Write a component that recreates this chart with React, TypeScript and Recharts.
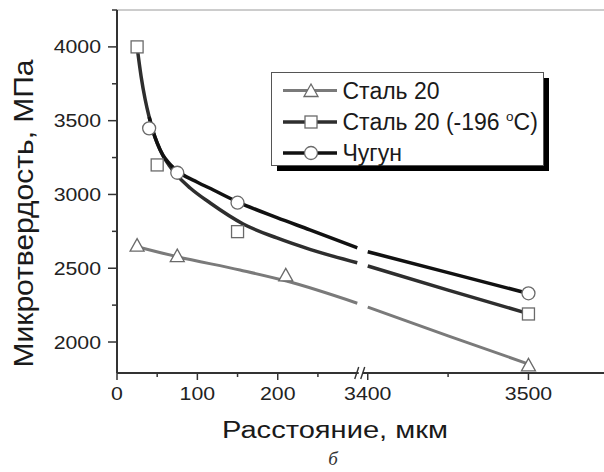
import React from 'react';
import { ComposedChart, Line, XAxis, YAxis, Legend, ReferenceLine, Label } from 'recharts';

const FONT = '"Liberation Sans", Arial, Helvetica, sans-serif';

// Broken x axis: 0–300 мкм, then 3400–3550 мкм drawn at double scale
const BREAK_LOW = 300;
const BREAK_HIGH = 3400;
const BREAK_GAP = 12;
const HIGH_STRETCH = 2;
const toAxis = (d: number) =>
  d <= BREAK_LOW ? d : BREAK_LOW + BREAK_GAP + (d - BREAK_HIGH) * HIGH_STRETCH;

const xMajorTicks = [0, 100, 200, 3400, 3500];
const xMinorTicks = [50, 150, 250, 3450];
const yMajorTicks = [2000, 2500, 3000, 3500, 4000];
const yMinorTicks = [2250, 2750, 3250, 3750, 4250];

const seriesNames = ['Сталь 20', 'Сталь 20 (-196 °C)', 'Чугун'];

// measured points
const steel20X = [25, 75, 210, 3500];
const steel20Y = [2657, 2585, 2455, 1845];
const steelColdX = [25, 50, 150, 3500];
const steelColdY = [4000, 3200, 2748, 2190];
const castIronX = [40, 75, 150, 3500];
const castIronY = [3448, 3147, 2944, 2330];

// fitted curves
const steel20FitX = [25, 75, 153, 211, 299, 3400, 3450, 3500];
const steel20FitY = [2646, 2578, 2488, 2413, 2263, 2237, 2042, 1851];
const steelColdFitX = [25, 30, 35, 40, 45, 50, 57, 65, 75, 91, 116, 157, 199, 240, 299, 3400, 3450, 3500];
const steelColdFitY = [4000, 3800, 3645, 3525, 3425, 3348, 3264, 3196, 3127, 3044, 2942, 2800, 2705, 2628, 2537, 2515, 2352, 2192];
const castIronFitX = [40, 45, 50, 57, 65, 80, 100, 120, 150, 199, 240, 299, 3400, 3450, 3500];
const castIronFitY = [3525, 3425, 3350, 3268, 3210, 3140, 3083, 3030, 2950, 2843, 2760, 2638, 2612, 2470, 2329];

const colors = ['#7a7a7a', '#2e2e2e', '#111111'];
const widths = [3, 3.5, 3.5];
const markers = ['triangle', 'square', 'circle'];
const MARKER_STROKE = '#6a6a6a';

const toPoints = (xs: number[], ys: number[]) => xs.map((d, i) => ({ u: toAxis(d), v: ys[i] }));
const toCurve = (xs: number[], ys: number[]) => {
  const pts: { u: number; v: number | null }[] = [];
  xs.forEach((d, i) => {
    if (d >= BREAK_HIGH && (i === 0 || xs[i - 1] < BREAK_HIGH)) {
      pts.push({ u: BREAK_LOW + BREAK_GAP / 2, v: null });
    }
    pts.push({ u: toAxis(d), v: ys[i] });
  });
  return pts;
};

const curves = [
  toCurve(steel20FitX, steel20FitY),
  toCurve(steelColdFitX, steelColdFitY),
  toCurve(castIronFitX, castIronFitY),
];
const points = [
  toPoints(steel20X, steel20Y),
  toPoints(steelColdX, steelColdY),
  toPoints(castIronX, castIronY),
];

const Marker = ({ kind, cx, cy }: { kind: string; cx: number; cy: number }) => {
  const common = { fill: '#fff', stroke: MARKER_STROKE, strokeWidth: 1.3 };
  if (kind === 'triangle') {
    return (
      <polygon
        {...common}
        points={`${cx},${cy - 6.5} ${cx + 7},${cy + 6} ${cx - 7},${cy + 6}`}
      />
    );
  }
  if (kind === 'square') {
    return <rect {...common} x={cx - 6} y={cy - 6} width={12} height={12} />;
  }
  return <circle {...common} cx={cx} cy={cy} r={6.5} />;
};

const XTick = (props: any) => {
  const { x, y, payload } = props;
  const u = payload.value;
  const major = xMajorTicks.find((d) => Math.abs(toAxis(d) - u) < 1e-6);
  const isMajor = major !== undefined;
  return (
    <g>
      <line x1={x} x2={x} y1={y} y2={y + (isMajor ? 7 : 4)} stroke="#333" strokeWidth={1.5} />
      {major === BREAK_HIGH && (
        <g>
          <rect x={x - 9} y={y - 2} width={4} height={4} fill="#fff" />
          <line x1={x - 13} y1={y + 6} x2={x - 9} y2={y - 6} stroke="#333" strokeWidth={1.4} />
          <line x1={x - 7} y1={y + 6} x2={x - 3} y2={y - 6} stroke="#333" strokeWidth={1.4} />
        </g>
      )}
      {isMajor && (
        <text
          transform={`translate(${x},${y + 27}) scale(1.15,1)`}
          textAnchor="middle"
          fontFamily={FONT}
          fontSize={18.5}
          fill="#222"
        >
          {String(major)}
        </text>
      )}
    </g>
  );
};

const YTick = (props: any) => {
  const { x, y, payload } = props;
  const isMajor = yMajorTicks.includes(payload.value);
  return (
    <g>
      <line x1={x - (isMajor ? 9 : 5)} x2={x} y1={y} y2={y} stroke="#333" strokeWidth={1.5} />
      {isMajor && (
        <text
          transform={`translate(${x - 16},${y + 6.6}) scale(1.15,1)`}
          textAnchor="end"
          fontFamily={FONT}
          fontSize={18.5}
          fill="#222"
        >
          {String(payload.value)}
        </text>
      )}
    </g>
  );
};

const YTitle = (props: any) => {
  const vb = props.viewBox;
  const cx = vb.x + 16;
  const cy = vb.y + vb.height / 2 + 22;
  return (
    <text
      transform={`translate(${cx},${cy}) rotate(-90)`}
      textAnchor="middle"
      fontFamily={FONT}
      fontSize={27}
      fill="#1a1a1a"
      textLength={308}
      lengthAdjust="spacingAndGlyphs"
    >
      Микротвердость, МПа
    </text>
  );
};

const XTitle = (props: any) => {
  const vb = props.viewBox;
  const cx = vb.x + 218;
  return (
    <g>
      <text
        x={cx}
        y={vb.y + 65}
        textAnchor="middle"
        fontFamily={FONT}
        fontSize={23.5}
        fill="#1a1a1a"
        textLength={226}
        lengthAdjust="spacingAndGlyphs"
      >
        Расстояние, мкм
      </text>
      <text
        x={cx - 2}
        y={vb.y + 92}
        textAnchor="middle"
        fontFamily='"Liberation Serif", "Times New Roman", serif'
        fontStyle="italic"
        fontSize={19}
        fill="#333"
      >
        б
      </text>
    </g>
  );
};

const LegendBox = () => {
  const rowY = [18.5, 50, 81];
  return (
    <svg width={282} height={102} style={{ display: 'block' }}>
      <rect x={6} y={6} width={272} height={93} fill="#000" />
      <rect x={0.5} y={0.5} width={272} height={93} fill="#fff" stroke="#555" strokeWidth={1} />
      {seriesNames.map((name, i) => (
        <g key={name}>
          <line x1={12} x2={66} y1={rowY[i]} y2={rowY[i]} stroke={colors[i]} strokeWidth={widths[i]} />
          <Marker kind={markers[i]} cx={40} cy={rowY[i]} />
          <text x={71.5} y={rowY[i] + 8} fontFamily={FONT} fontSize={23} fill="#1a1a1a">
            {i === 1 ? (
              <>
                Сталь 20 (-196{' '}
                <tspan fontSize={13.5} dy={-9.5}>o</tspan>
                <tspan dy={9.5}>C)</tspan>
              </>
            ) : (
              name
            )}
          </text>
        </g>
      ))}
    </svg>
  );
};

export default function App() {
  const xTicks = [...xMajorTicks, ...xMinorTicks].map(toAxis).sort((a, b) => a - b);
  const yTicks = [...yMajorTicks, ...yMinorTicks].sort((a, b) => a - b);
  return (
    <div style={{ position: 'absolute', left: 0, top: 0, width: 604, height: 472, background: '#fff' }}>
      <ComposedChart width={604} height={472} margin={{ top: 10, right: 0, bottom: 39, left: 17 }}>
        <XAxis
          type="number"
          dataKey="u"
          domain={[0, 606]}
          allowDataOverflow
          ticks={xTicks}
          interval={0}
          tick={<XTick />}
          tickLine={false}
          tickSize={0}
          tickMargin={0}
          height={60}
          axisLine={{ stroke: '#333', strokeWidth: 2 }}
        >
          <Label content={<XTitle />} />
        </XAxis>
        <YAxis
          type="number"
          domain={[1790, 4250]}
          allowDataOverflow
          ticks={yTicks}
          interval={0}
          tick={<YTick />}
          tickLine={false}
          tickSize={0}
          tickMargin={0}
          width={100}
          axisLine={{ stroke: '#333', strokeWidth: 2 }}
        >
          <Label content={<YTitle />} />
        </YAxis>
        <ReferenceLine y={4250} stroke="#9a9a9a" strokeWidth={1} />
        {curves.map((data, i) => (
          <Line
            key={`curve-${i}`}
            data={data}
            dataKey="v"
            type="monotone"
            stroke={colors[i]}
            strokeWidth={widths[i]}
            dot={false}
            activeDot={false}
            connectNulls={false}
            legendType="none"
            isAnimationActive={false}
          />
        ))}
        {points.map((data, i) => (
          <Line
            key={`pts-${i}`}
            data={data}
            dataKey="v"
            stroke="none"
            dot={(p: any) => <Marker key={`m-${i}-${p.index}`} kind={markers[i]} cx={p.cx} cy={p.cy} />}
            activeDot={false}
            legendType="none"
            isAnimationActive={false}
          />
        ))}
        <Legend
          layout="vertical"
          verticalAlign="middle"
          align="center"
          wrapperStyle={{ position: 'absolute', left: 271, top: 72, width: 282, height: 102 }}
          content={() => <LegendBox />}
        />
      </ComposedChart>
    </div>
  );
}
